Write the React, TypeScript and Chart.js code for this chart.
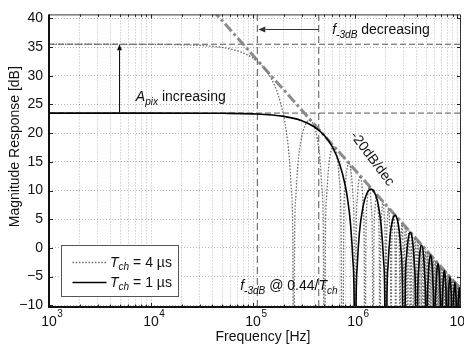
import React, { useEffect, useRef } from 'react';
import { Chart, registerables } from 'chart.js';

Chart.register(...registerables);

// ---------- axis ranges & ticks ----------
const X_RANGE: [number, number] = [1e3, 1.09e7];
const Y_RANGE: [number, number] = [-10.3, 40.7];
const yTickValues = [-10, -5, 0, 5, 10, 15, 20, 25, 30, 35, 40];
const xDecades = [1e3, 1e4, 1e5, 1e6, 1e7];
const xDecadeExponents = ['3', '4', '5', '6', '7'];
const xMinorMultipliers = [2, 3, 4, 5, 6, 7, 8, 9];

// ---------- reference levels ----------
const passbandLevels = [35.5, 23.5]; // dB : Tch = 4 us, Tch = 1 us
const f3dbMarkers = [1.1e5, 4.4e5]; // Hz : 0.44/4us, 0.44/1us
const rolloffLine: [number, number][] = [[3e4, 44.0], [1.09e7, -7.19]];

// ---------- Tch = 1 us (solid) [Hz, dB] ----------
const tch1: [number, number][] = [
  [1e3, 23.5], [1e4, 23.5], [5e4, 23.46], [1e5, 23.36], [2e5, 22.92], [3e5, 22.17],
  [4e5, 21.08], [5e5, 19.58], [6e5, 17.56], [7e5, 14.81], [8e5, 10.88], [8.5e5, 8.11],
  [9e5, 4.27], [9.5e5, -2.11], [9.8e5, -10.3], [1e6, -40],
  [1.02e6, -10.7], [1.05e6, -2.98], [1.1e6, 2.53], [1.2e6, 7.36], [1.3e6, 9.44], [1.43e6, 10.24],
  [1.6e6, 9.04], [1.7e6, 7.11], [1.8e6, 3.84], [1.9e6, -2.22], [1.95e6, -8.36], [2e6, -40],
  [2.05e6, -8.79], [2.1e6, -3.09], [2.2e6, 2.09], [2.3e6, 4.48], [2.46e6, 5.67], [2.6e6, 4.82],
  [2.7e6, 3.09], [2.8e6, 0.0], [2.9e6, -5.89], [3e6, -40],
  [3.1e6, -6.47], [3.2e6, -1.16], [3.3e6, 1.35], [3.47e6, 2.71], [3.6e6, 2.0], [3.7e6, 0.35],
  [3.8e6, -2.65], [3.9e6, -8.47], [4e6, -40],
  [4.1e6, -8.9], [4.2e6, -3.52], [4.3e6, -0.95], [4.48e6, 0.51], [4.7e6, -1.73], [4.8e6, -4.68],
  [4.9e6, -10.45], [5e6, -40],
  [5.1e6, -10.8], [5.2e6, -5.38], [5.3e6, -2.77], [5.5e6, -1.23], [5.7e6, -3.4], [5.8e6, -6.33],
  [5.9e6, -12.1], [6e6, -40],
  [6.1e6, -12.35], [6.2e6, -6.91], [6.3e6, -4.27], [6.5e6, -2.69], [6.7e6, -4.81], [6.8e6, -7.71],
  [6.9e6, -13.4], [7e6, -40],
  [7.1e6, -13.67], [7.2e6, -8.2], [7.3e6, -5.55], [7.5e6, -3.94], [7.7e6, -6.01], [7.8e6, -8.9], [8e6, -40],
  [8.2e6, -9.33], [8.3e6, -6.67], [8.5e6, -5.03], [8.7e6, -7.07], [8.8e6, -9.95], [9e6, -40],
  [9.2e6, -10.33], [9.3e6, -7.65], [9.5e6, -6.0], [9.7e6, -8.02], [9.8e6, -10.88], [1e7, -40],
  [1.02e7, -11.23], [1.03e7, -8.54], [1.05e7, -6.87], [1.07e7, -8.87], [1.09e7, -17.4],
];

// ---------- Tch = 4 us (dotted) [Hz, dB] ----------
const tch4: [number, number][] = [
  [1e3, 35.5], [1e4, 35.48], [2e4, 35.41], [3e4, 35.29], [5e4, 34.92], [7e4, 34.35], [1e5, 33.08],
  [1.25e5, 31.58], [1.5e5, 29.56], [1.75e5, 26.81], [2e5, 22.88], [2.125e5, 20.11], [2.25e5, 16.27],
  [2.375e5, 9.89], [2.45e5, 1.7], [2.5e5, -40],
  [2.55e5, 1.3], [2.625e5, 9.02], [2.75e5, 14.53], [3e5, 19.36], [3.25e5, 21.44], [3.575e5, 22.24],
  [4e5, 21.04], [4.25e5, 19.11], [4.5e5, 15.84], [4.75e5, 9.78], [4.875e5, 3.64], [5e5, -40],
  [5.125e5, 3.21], [5.25e5, 8.91], [5.5e5, 14.09], [5.75e5, 16.48], [6.15e5, 17.67], [6.5e5, 16.82],
  [6.75e5, 15.09], [7e5, 12.0], [7.25e5, 6.11], [7.5e5, -40],
  [7.75e5, 5.53], [8e5, 10.84], [8.25e5, 13.35], [8.675e5, 14.71], [9e5, 14.0], [9.25e5, 12.35],
  [9.5e5, 9.35], [9.75e5, 3.53], [1e6, -40],
  [1.025e6, 3.1], [1.05e6, 8.48], [1.075e6, 11.05], [1.12e6, 12.51], [1.175e6, 10.27], [1.2e6, 7.32],
  [1.225e6, 1.55], [1.25e6, -40],
  [1.275e6, 1.21], [1.3125e6, 8.14], [1.375e6, 10.75], [1.4375e6, 7.35], [1.475e6, -0.06], [1.5e6, -40],
  [1.525e6, -0.35], [1.5625e6, 6.63], [1.625e6, 9.3], [1.6875e6, 5.96], [1.725e6, -1.42], [1.75e6, -40],
  [1.775e6, -1.67], [1.8125e6, 5.34], [1.875e6, 8.06], [1.9375e6, 4.76], [1.975e6, -2.6], [2e6, -40],
  [2.025e6, -2.81], [2.0625e6, 4.22], [2.125e6, 6.97], [2.1875e6, 3.71], [2.225e6, -3.63], [2.25e6, -40],
  [2.275e6, -3.82], [2.3125e6, 3.23], [2.375e6, 6.0], [2.4375e6, 2.77], [2.475e6, -4.56], [2.5e6, -40],
  [2.525e6, -4.73], [2.5625e6, 2.33], [2.625e6, 5.13], [2.6875e6, 1.92], [2.725e6, -5.39], [2.75e6, -40],
  [2.775e6, -5.55], [2.8125e6, 1.52], [2.875e6, 4.34], [2.9375e6, 1.15], [2.975e6, -6.15], [3e6, -40],
  [3.0625e6, 0.78], [3.125e6, 3.62], [3.1875e6, 0.44], [3.25e6, -40],
  [3.3125e6, 0.1], [3.375e6, 2.95], [3.4375e6, -0.22], [3.5e6, -40],
  [3.5625e6, -0.53], [3.625e6, 2.33], [3.6875e6, -0.83], [3.75e6, -40],
  [3.8125e6, -1.12], [3.875e6, 1.75], [3.9375e6, -1.4], [4e6, -40],
  [4.0625e6, -1.67], [4.125e6, 1.21], [4.1875e6, -1.93], [4.25e6, -40],
  [4.3125e6, -2.19], [4.375e6, 0.7], [4.4375e6, -2.44], [4.5e6, -40],
  [4.5625e6, -2.68], [4.625e6, 0.21], [4.6875e6, -2.91], [4.75e6, -40],
  [4.8125e6, -3.14], [4.875e6, -0.24], [4.9375e6, -3.36], [5e6, -40],
  [5.0625e6, -3.58], [5.125e6, -0.68], [5.1875e6, -3.79], [5.25e6, -40],
  [5.3125e6, -4.0], [5.375e6, -1.09], [5.4375e6, -4.2], [5.5e6, -40],
  [5.5625e6, -4.4], [5.625e6, -1.49], [5.6875e6, -4.59], [5.75e6, -40],
  [5.8125e6, -4.78], [5.875e6, -1.86], [5.9375e6, -4.97], [6e6, -40],
  [6.0625e6, -5.15], [6.125e6, -2.23], [6.1875e6, -5.32], [6.25e6, -40],
  [6.3125e6, -5.5], [6.375e6, -2.57], [6.4375e6, -5.67], [6.5e6, -40],
  [6.5625e6, -5.84], [6.625e6, -2.91], [6.6875e6, -6.0], [6.75e6, -40],
  [6.8125e6, -6.16], [6.875e6, -3.23], [6.9375e6, -6.32], [7e6, -40],
  [7.0625e6, -6.47], [7.125e6, -3.54], [7.1875e6, -6.63], [7.25e6, -40],
  [7.3125e6, -6.78], [7.375e6, -3.84], [7.4375e6, -6.92], [7.5e6, -40],
  [7.5625e6, -7.07], [7.625e6, -4.13], [7.6875e6, -7.21], [7.75e6, -40],
  [7.8125e6, -7.35], [7.875e6, -4.41], [7.9375e6, -7.49], [8e6, -40],
  [8.0625e6, -7.62], [8.125e6, -4.68], [8.1875e6, -7.76], [8.25e6, -40],
  [8.3125e6, -7.89], [8.375e6, -4.94], [8.4375e6, -8.02], [8.5e6, -40],
  [8.5625e6, -8.15], [8.625e6, -5.2], [8.6875e6, -8.27], [8.75e6, -40],
  [8.8125e6, -8.4], [8.875e6, -5.45], [8.9375e6, -8.52], [9e6, -40],
  [9.0625e6, -8.64], [9.125e6, -5.69], [9.1875e6, -8.76], [9.25e6, -40],
  [9.3125e6, -8.88], [9.375e6, -5.92], [9.4375e6, -8.99], [9.5e6, -40],
  [9.5625e6, -9.11], [9.625e6, -6.15], [9.6875e6, -9.22], [9.75e6, -40],
  [9.8125e6, -9.33], [9.875e6, -6.38], [9.9375e6, -9.44], [1e7, -40],
  [1.00625e7, -9.55], [1.0125e7, -6.59], [1.01875e7, -9.66], [1.025e7, -40],
  [1.03125e7, -9.76], [1.0375e7, -6.8], [1.04375e7, -9.87], [1.05e7, -40],
  [1.05625e7, -9.97], [1.0625e7, -7.01], [1.06875e7, -10.07], [1.075e7, -40],
  [1.08125e7, -10.17], [1.0875e7, -7.21], [1.09e7, -7.67],
];

// ---------- annotation anchors (data coordinates) ----------
const apixArrowFreq = 4.85e3;
const apixLabel = { f: 7.1e3, db: 26.5 };
const f3dbArrowDb = 38.1;
const f3dbLabel = { f: 5.96e5, db: 38.1 };
const rolloffLabel = { f: 1.47e6, db: 15.5, angle: 53 };
const f3dbAtLabel = { f: 7.47e4, db: -6.43 };

// ---------- styles ----------
const FONT = '"Liberation Sans", Arial, Helvetica, sans-serif';
const TEXT = '#111';
const GRID = 'rgba(0,0,0,0.28)';
const STYLE_1US = { color: '#000', width: 1.6, dash: [] as number[] };
const STYLE_4US = { color: '#6e6e6e', width: 1.3, dash: [1.6, 1.6] };

type Seg = { t: string; it?: boolean; sub?: boolean };

function drawRich(ctx: CanvasRenderingContext2D, segs: Seg[], x: number, yMid: number, size: number, align: 'left' | 'center') {
  const fontOf = (s: Seg) => `${s.it ? 'italic ' : ''}${s.sub ? size * 0.72 : size}px ${FONT}`;
  let w = 0;
  for (const s of segs) { ctx.font = fontOf(s); w += ctx.measureText(s.t).width; }
  let cx = align === 'center' ? x - w / 2 : x;
  const base = yMid + size * 0.36;
  ctx.textAlign = 'left';
  ctx.textBaseline = 'alphabetic';
  for (const s of segs) {
    ctx.font = fontOf(s);
    ctx.fillText(s.t, cx, s.sub ? base + size * 0.28 : base);
    cx += ctx.measureText(s.t).width;
  }
}

function drawArrow(ctx: CanvasRenderingContext2D, x1: number, y1: number, x2: number, y2: number, color: string, hl: number, hw: number) {
  const ang = Math.atan2(y2 - y1, x2 - x1);
  const bx = x2 - hl * Math.cos(ang);
  const by = y2 - hl * Math.sin(ang);
  ctx.strokeStyle = color;
  ctx.fillStyle = color;
  ctx.lineWidth = 1;
  ctx.setLineDash([]);
  ctx.beginPath();
  ctx.moveTo(x1, y1);
  ctx.lineTo(bx, by);
  ctx.stroke();
  ctx.beginPath();
  ctx.moveTo(x2, y2);
  ctx.lineTo(bx + hw * Math.sin(ang), by - hw * Math.cos(ang));
  ctx.lineTo(bx - hw * Math.sin(ang), by + hw * Math.cos(ang));
  ctx.closePath();
  ctx.fill();
}

const overlayPlugin = {
  id: 'overlay',
  afterDatasetsDraw(chart: any) {
    const { ctx, chartArea: a, scales } = chart;
    const X = (v: number) => scales.x.getPixelForValue(v);
    const Y = (v: number) => scales.y.getPixelForValue(v);
    ctx.save();

    // A_pix arrow + label
    const ax = Math.round(X(apixArrowFreq)) + 0.5;
    drawArrow(ctx, ax, Y(passbandLevels[1]), ax, Y(passbandLevels[0]), '#111', 6, 2.5);
    ctx.fillStyle = TEXT;
    drawRich(ctx, [{ t: 'A', it: true }, { t: 'pix', it: true, sub: true }, { t: ' increasing' }], X(apixLabel.f), Y(apixLabel.db), 14, 'left');

    // f-3dB arrow + label
    const ay = Math.round(Y(f3dbArrowDb)) + 0.5;
    drawArrow(ctx, X(f3dbMarkers[1]), ay, X(f3dbMarkers[0]) + 1, ay, '#333', 7, 3);
    ctx.fillStyle = TEXT;
    drawRich(ctx, [{ t: 'f', it: true }, { t: '-3dB', it: true, sub: true }, { t: ' decreasing' }], X(f3dbLabel.f), Y(f3dbLabel.db), 14, 'left');

    // -20dB/dec
    ctx.save();
    ctx.translate(X(rolloffLabel.f), Y(rolloffLabel.db));
    ctx.rotate((rolloffLabel.angle * Math.PI) / 180);
    ctx.font = `14px ${FONT}`;
    ctx.fillStyle = TEXT;
    ctx.textAlign = 'center';
    ctx.textBaseline = 'middle';
    ctx.fillText('-20dB/dec', 0, 0);
    ctx.restore();

    // f-3dB @ 0.44/Tch
    ctx.fillStyle = TEXT;
    drawRich(ctx, [{ t: 'f', it: true }, { t: '-3dB', it: true, sub: true }, { t: ' @ 0.44/' }, { t: 'T', it: true }, { t: 'ch', it: true, sub: true }], X(f3dbAtLabel.f), Y(f3dbAtLabel.db), 14, 'left');

    // legend box
    const lx = a.left + 12.5;
    const ly = a.bottom - 61.5;
    const lw = 117;
    const lh = 51;
    ctx.fillStyle = '#fff';
    ctx.fillRect(lx, ly, lw, lh);
    ctx.strokeStyle = '#555';
    ctx.lineWidth = 1;
    ctx.setLineDash([]);
    ctx.strokeRect(lx, ly, lw, lh);
    const entries = [
      { style: STYLE_4US, label: [{ t: 'T', it: true }, { t: 'ch', it: true, sub: true }, { t: ' = 4 \u00b5s' }] as Seg[], dy: 16.5 },
      { style: STYLE_1US, label: [{ t: 'T', it: true }, { t: 'ch', it: true, sub: true }, { t: ' = 1 \u00b5s' }] as Seg[], dy: 36 },
    ];
    for (const e of entries) {
      const yy = Math.round(ly + e.dy) + 0.5;
      ctx.strokeStyle = e.style.color;
      ctx.lineWidth = e.style.width;
      ctx.setLineDash(e.style.dash);
      ctx.beginPath();
      ctx.moveTo(lx + 11, yy);
      ctx.lineTo(lx + 45, yy);
      ctx.stroke();
      ctx.setLineDash([]);
      ctx.fillStyle = TEXT;
      drawRich(ctx, e.label, lx + 48.5, yy - 1, 14, 'left');
    }
    ctx.restore();
  },
  afterDraw(chart: any) {
    const { ctx, chartArea: a, scales } = chart;
    const xs = scales.x;
    const ys = scales.y;
    ctx.save();
    ctx.setLineDash([]);

    // inward tick marks
    ctx.strokeStyle = '#222';
    ctx.lineWidth = 1;
    ctx.beginPath();
    for (const t of xs.ticks) {
      const px = Math.round(xs.getPixelForValue(t.value)) + 0.5;
      const major = xDecades.includes(t.value);
      const len = major ? 4 : 2.5;
      ctx.moveTo(px, a.bottom); ctx.lineTo(px, a.bottom - len);
      ctx.moveTo(px, a.top); ctx.lineTo(px, a.top + len);
    }
    for (const v of yTickValues) {
      const py = Math.round(ys.getPixelForValue(v)) + 0.5;
      ctx.moveTo(a.left, py); ctx.lineTo(a.left + 4, py);
      ctx.moveTo(a.right, py); ctx.lineTo(a.right - 4, py);
    }
    ctx.stroke();

    // box
    ctx.strokeStyle = '#333';
    ctx.lineWidth = 1;
    ctx.beginPath();
    ctx.moveTo(a.left, a.top + 0.5); ctx.lineTo(a.right - 0.5, a.top + 0.5); ctx.lineTo(a.right - 0.5, a.bottom);
    ctx.stroke();
    ctx.strokeStyle = '#111';
    ctx.lineWidth = 2;
    ctx.beginPath();
    ctx.moveTo(a.left, a.top); ctx.lineTo(a.left, a.bottom); ctx.lineTo(a.right, a.bottom);
    ctx.stroke();

    // x tick labels with superscript exponents
    ctx.fillStyle = TEXT;
    xDecades.forEach((v, i) => {
      const px = xs.getPixelForValue(v);
      ctx.font = `14px ${FONT}`;
      ctx.textAlign = 'center';
      ctx.textBaseline = 'alphabetic';
      ctx.fillText('10', px, a.bottom + 19);
      const w = ctx.measureText('10').width;
      ctx.font = `10px ${FONT}`;
      ctx.textAlign = 'left';
      ctx.fillText(xDecadeExponents[i], px + w / 2 + 0.5, a.bottom + 10);
    });

    // axis titles
    ctx.font = `14px ${FONT}`;
    ctx.textAlign = 'center';
    ctx.textBaseline = 'alphabetic';
    ctx.fillText('Frequency [Hz]', (a.left + a.right) / 2 + 8, a.bottom + 34);
    ctx.save();
    ctx.translate(15, (a.top + a.bottom) / 2 - 14);
    ctx.rotate(-Math.PI / 2);
    ctx.textBaseline = 'middle';
    ctx.fillText('Magnitude Response [dB]', 0, 0);
    ctx.restore();

    ctx.restore();
  },
};

const toXY = (pts: [number, number][]) => pts.map(([x, y]) => ({ x, y }));
const hLine = (db: number) => [{ x: X_RANGE[0], y: db }, { x: X_RANGE[1], y: db }];
const vLine = (f: number) => [{ x: f, y: Y_RANGE[0] }, { x: f, y: Y_RANGE[1] }];

const xTickValues: number[] = [];
xDecades.forEach((d) => {
  xTickValues.push(d);
  xMinorMultipliers.forEach((m) => {
    if (d * m <= X_RANGE[1]) xTickValues.push(d * m);
  });
});
xTickValues.sort((p, q) => p - q);

export default function App() {
  const ref = useRef<HTMLCanvasElement>(null);
  useEffect(() => {
    if (!ref.current) return;
    const refStyle = { borderColor: '#555', borderWidth: 1, pointRadius: 0, fill: false };
    const chart = new Chart(ref.current, {
      type: 'line',
      data: {
        datasets: [
          { label: 'Tch = 1 us', data: toXY(tch1), borderColor: STYLE_1US.color, borderWidth: STYLE_1US.width, pointRadius: 0, cubicInterpolationMode: 'monotone' } as any,
          { label: 'Tch = 4 us', data: toXY(tch4), borderColor: STYLE_4US.color, borderWidth: STYLE_4US.width, borderDash: STYLE_4US.dash, pointRadius: 0, cubicInterpolationMode: 'monotone' } as any,
          { label: 'rolloff', data: toXY(rolloffLine), borderColor: '#8c8c8c', borderWidth: 3, borderDash: [10, 3, 3, 3], pointRadius: 0 } as any,
          { label: 'level4', data: hLine(passbandLevels[0]), ...refStyle, borderDash: [6, 3] } as any,
          { label: 'level1', data: hLine(passbandLevels[1]), ...refStyle, borderDash: [6, 3] } as any,
          { label: 'f3db4', data: vLine(f3dbMarkers[0]), ...refStyle, borderDash: [7, 4] } as any,
          { label: 'f3db1', data: vLine(f3dbMarkers[1]), ...refStyle, borderDash: [7, 4] } as any,
        ],
      },
      options: {
        responsive: false,
        devicePixelRatio: 1,
        animation: false,
        events: [],
        layout: { padding: { top: 5, right: 3, left: 0, bottom: 0 } },
        plugins: { legend: { display: false }, tooltip: { enabled: false }, title: { display: false } },
        scales: {
          x: {
            type: 'logarithmic',
            min: X_RANGE[0],
            max: X_RANGE[1],
            afterBuildTicks: (s: any) => { s.ticks = xTickValues.map((v) => ({ value: v })); },
            afterFit: (s: any) => { s.height = 41; },
            ticks: { display: false, autoSkip: false },
            grid: { color: GRID, lineWidth: 1, drawTicks: false },
            border: { display: false, dash: [1, 2] },
          },
          y: {
            type: 'linear',
            min: Y_RANGE[0],
            max: Y_RANGE[1],
            afterBuildTicks: (s: any) => { s.ticks = yTickValues.map((v) => ({ value: v })); },
            afterFit: (s: any) => { s.width = 49; },
            ticks: {
              padding: 6,
              color: TEXT,
              font: { family: FONT, size: 14 },
              autoSkip: false,
              callback: (v: any) => String(v).replace('-', '\u2212'),
            },
            grid: { color: GRID, lineWidth: 1, drawTicks: false },
            border: { display: false, dash: [1, 2] },
          },
        },
      } as any,
      plugins: [overlayPlugin],
    });
    return () => chart.destroy();
  }, []);
  return (
    <div style={{ position: 'absolute', left: 0, top: 0, width: 464, height: 348, background: '#fff' }}>
      <canvas ref={ref} width={464} height={348} style={{ display: 'block', width: 464, height: 348 }} />
    </div>
  );
}
